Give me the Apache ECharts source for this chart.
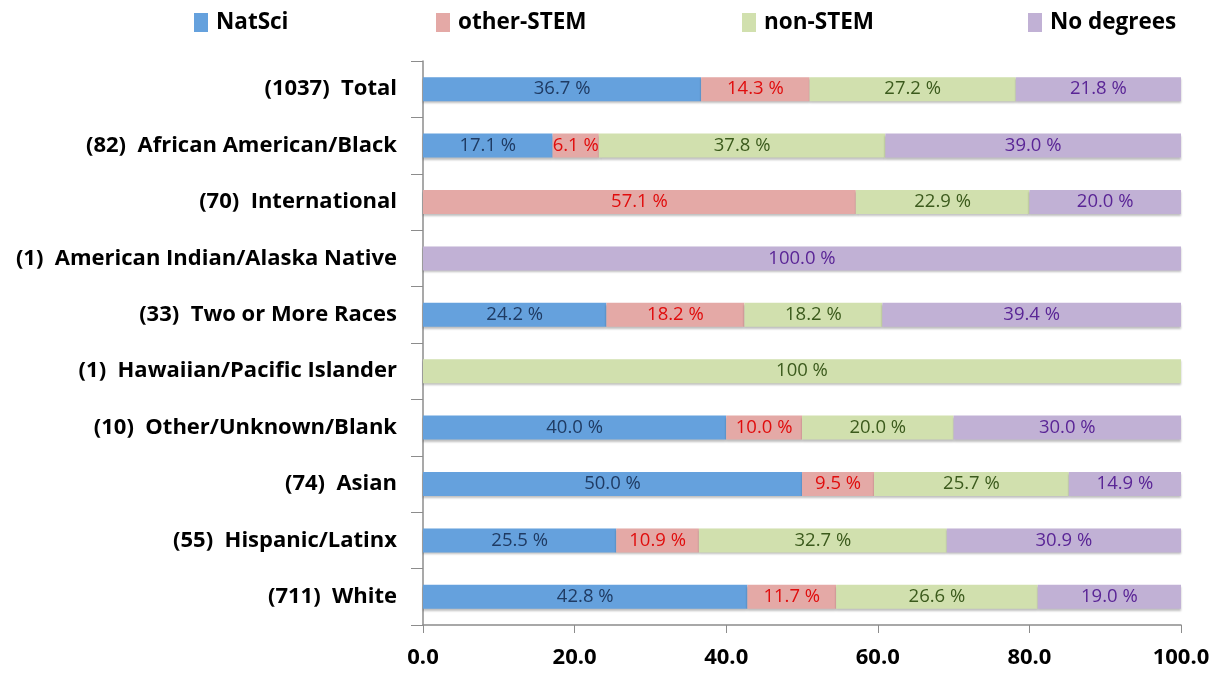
<!DOCTYPE html>
<html><head><meta charset="utf-8">
<script src="https://cdn.jsdelivr.net/npm/echarts@6/dist/echarts.min.js"></script>
<style>html,body{margin:0;padding:0;background:#fff}#c{width:1220px;height:673px}</style>
</head><body><div id="c"></div>
<script>
const categories = ['(1037)  Total','(82)  African American/Black','(70)  International','(1)  American Indian/Alaska Native','(33)  Two or More Races','(1)  Hawaiian/Pacific Islander','(10)  Other/Unknown/Blank','(74)  Asian','(55)  Hispanic/Latinx','(711)  White'];
const natSci    = [36.7, 17.1, 0, 0, 24.2, 0, 40.0, 50.0, 25.5, 42.8];
const otherStem = [14.3, 6.1, 57.1, 0, 18.2, 0, 10.0, 9.5, 10.9, 11.7];
const nonStem   = [27.2, 37.8, 22.9, 0, 18.2, 100, 20.0, 25.7, 32.7, 26.6];
const noDegrees = [21.8, 39.0, 20.0, 100.0, 39.4, 0, 30.0, 14.9, 30.9, 19.0];
const xTicks = [0, 20, 40, 60, 80, 100];

const FONT = '"Open Sans", Lato, sans-serif';
const seriesDefs = [
  {name:'NatSci', data:natSci, color:'#65a1dd', lab:'#1f3b63'},
  {name:'other-STEM', data:otherStem, color:'#e4a9a6', lab:'#e00d0d'},
  {name:'non-STEM', data:nonStem, color:'#d1e0ae', lab:'#3b5a1c'},
  {name:'No degrees', data:noDegrees, color:'#c1b1d5', lab:'#5a2596'}
];
const legendX = [194, 436, 742, 1028];
const chart = echarts.init(document.getElementById('c'));
chart.setOption({
  animation:false,
  legend: seriesDefs.map((s,i)=>({
    data:[s.name], left:legendX[i], top:11, itemWidth:14, itemHeight:19,
    icon:'rect', itemGap:0, padding:0,
    textStyle:{fontFamily:FONT, fontWeight:'bold', fontSize:22.5, color:'#000', padding:[0,0,0,3]}
  })),
  grid:{left:423, right:39, top:61, bottom:48},
  xAxis:{type:'value', min:0, max:100, interval:20,
    axisLine:{show:true, lineStyle:{color:'#8c8c8c', width:1.5}},
    axisTick:{show:true, length:8, lineStyle:{color:'#8c8c8c'}},
    splitLine:{show:false},
    axisLabel:{fontFamily:FONT, fontWeight:'bold', fontSize:22, color:'#000', margin:22,
      formatter:v=>v.toFixed(1)}
  },
  yAxis:{type:'category', data:categories, inverse:true,
    axisLine:{show:true, lineStyle:{color:'#8c8c8c', width:1.5}},
    axisTick:{show:true, length:12, lineStyle:{color:'#8c8c8c'}},
    axisLabel:{fontFamily:FONT, fontWeight:'bold', fontSize:22, color:'#000', margin:26}
  },
  series: seriesDefs.map(s=>({
    name:s.name, type:'bar', stack:'all', data:s.data, barWidth:24,
    itemStyle:{color:s.color, shadowColor:'rgba(0,0,0,0.25)', shadowOffsetY:2, shadowBlur:2},
    label:{show:true, position:'inside', fontFamily:FONT, fontSize:18.5, color:s.lab,
      formatter:p=>{
        if(!p.value) return '';
        if(s.name==='non-STEM' && p.value===100) return '100 %';
        return p.value.toFixed(1)+' %';
      }}
  }))
});
</script></body></html>
